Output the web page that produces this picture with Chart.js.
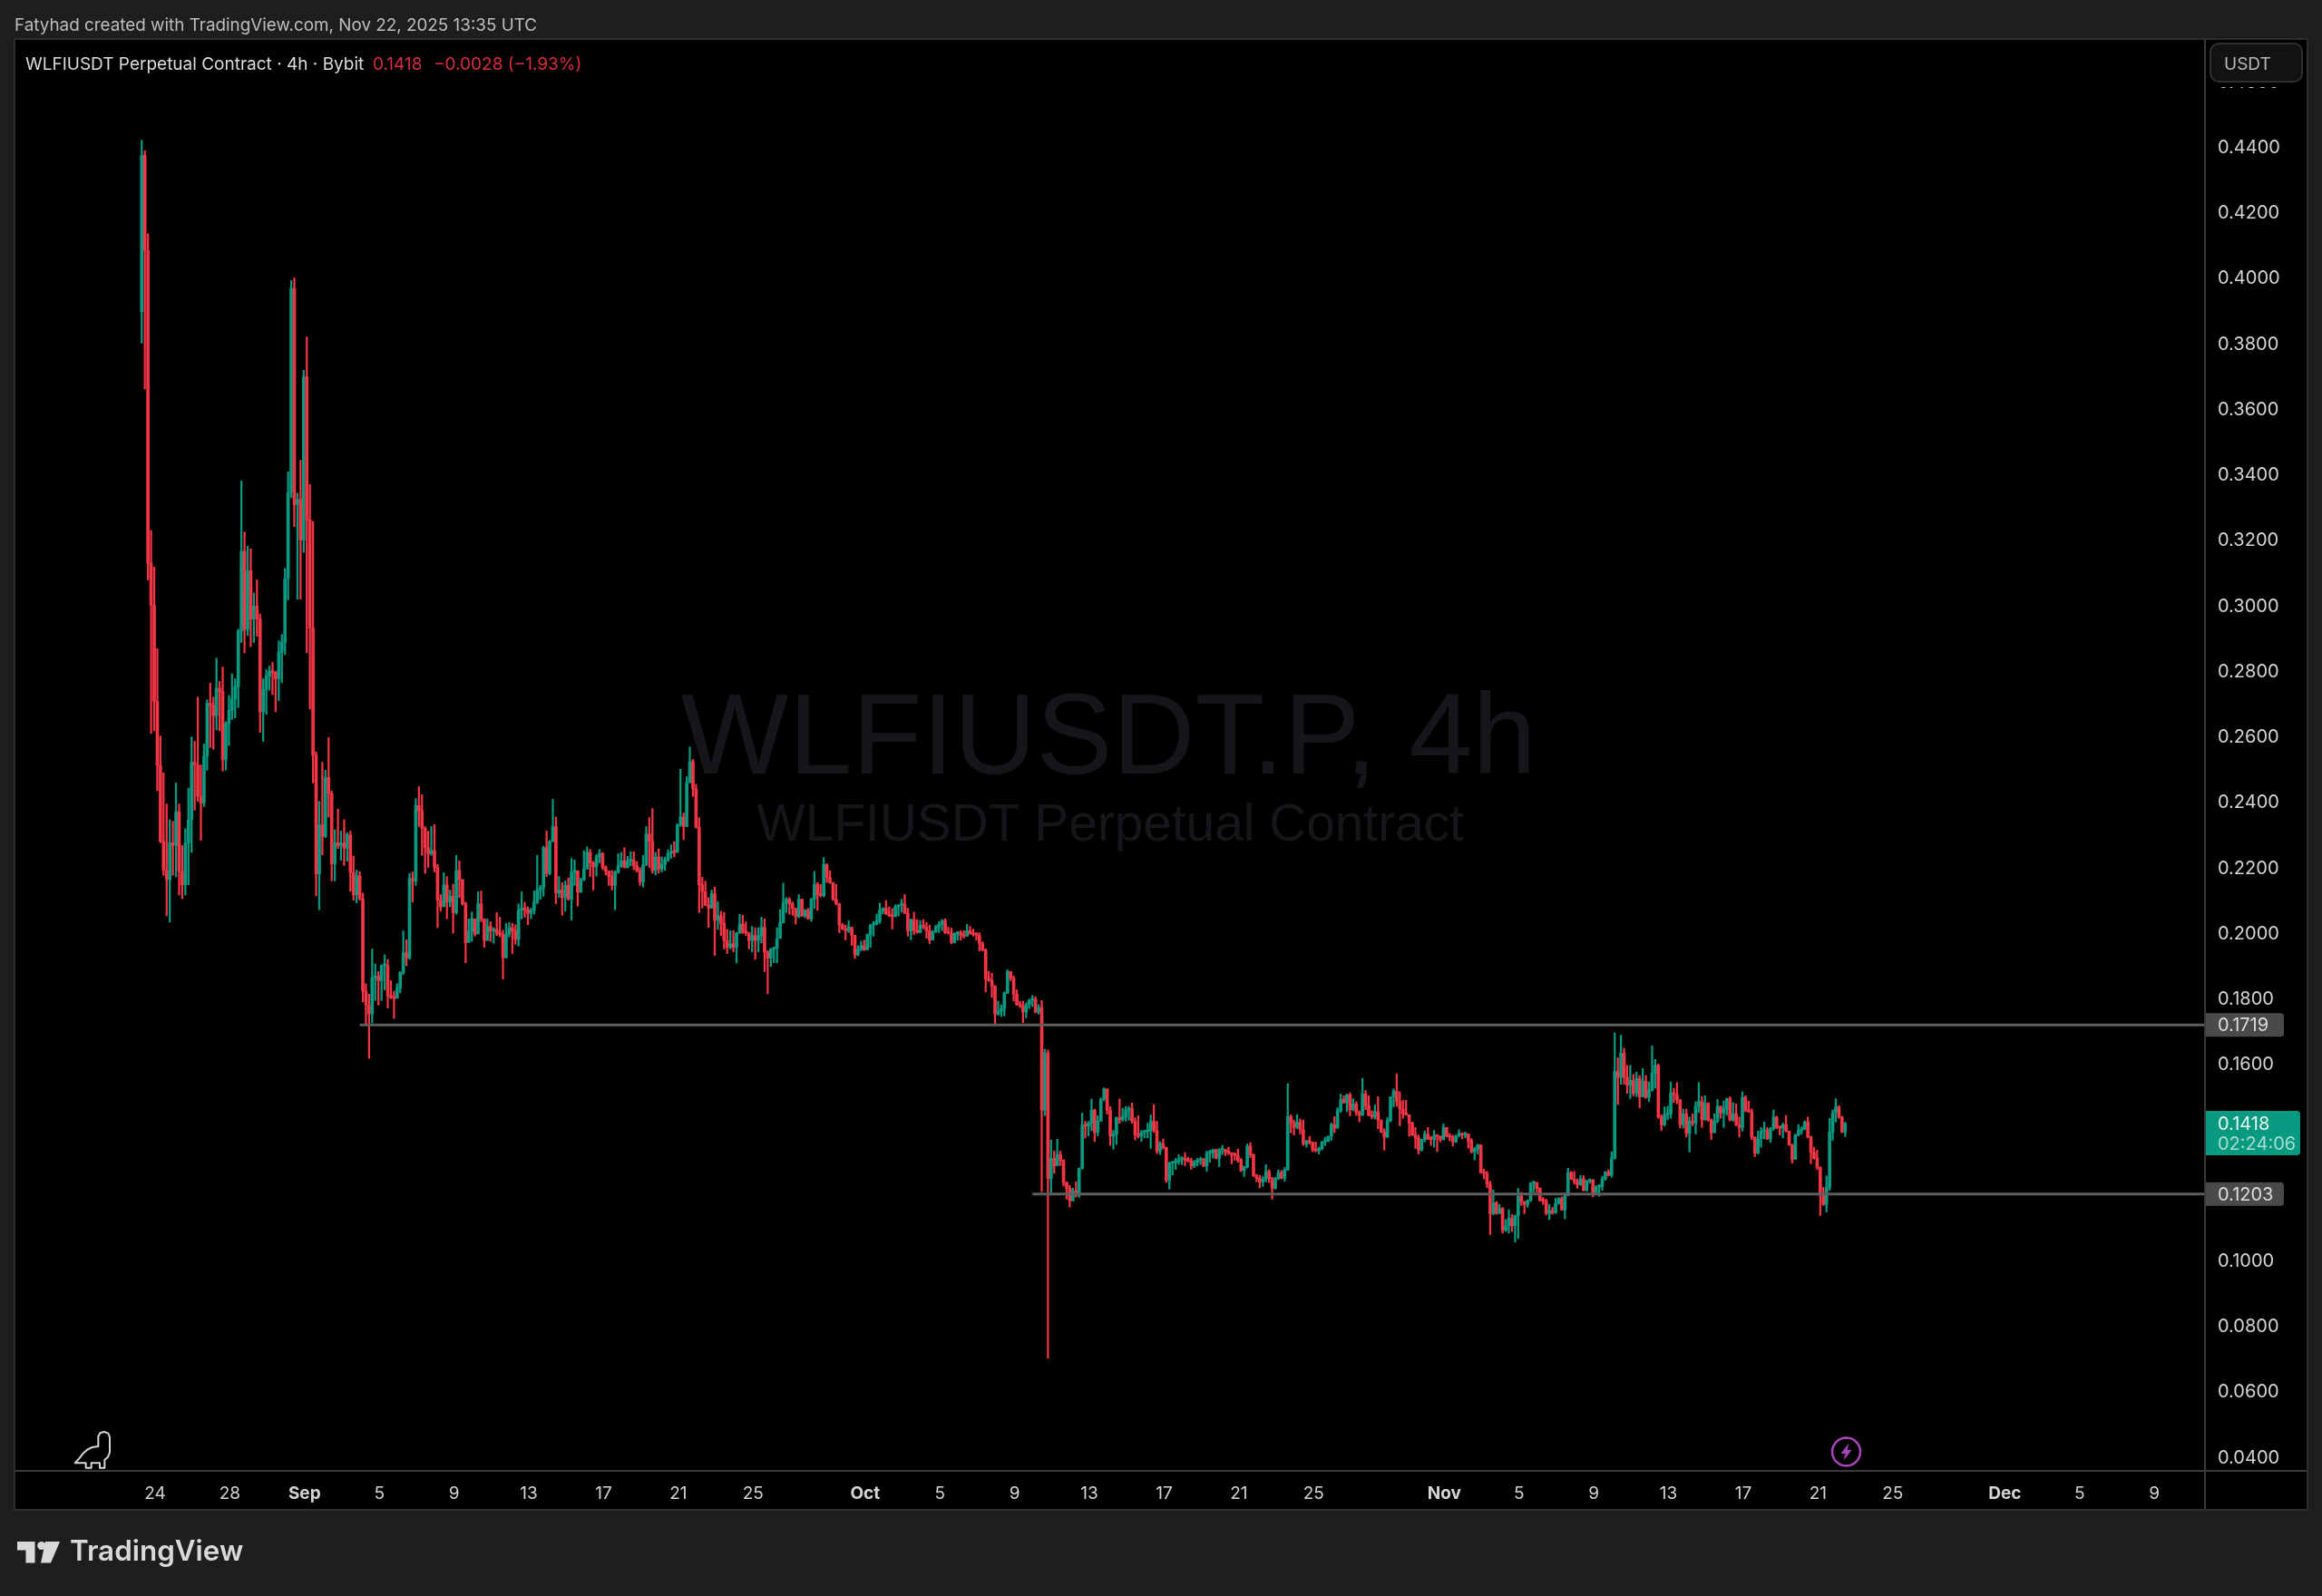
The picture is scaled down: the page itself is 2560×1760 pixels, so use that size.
<!DOCTYPE html>
<html><head><meta charset="utf-8"><title>WLFIUSDT.P 4h</title>
<style>html,body{margin:0;padding:0;background:#1e1e1e}canvas{display:block}</style>
<script src="https://cdn.jsdelivr.net/npm/chart.js@4/dist/chart.umd.min.js"></script>
</head><body><canvas id="c" width="2560" height="1760"></canvas>
<script>
const firstOpen = .3897;
const closes = [
.4374,.4083,.3129,.3001,.2707,.2512,.2280,.2192,.2163,.2275,
.2267,.2370,.2187,.2147,.2275,.2346,.2521,.2513,.2418,.2397,
.2540,.2701,.2696,.2664,.2747,.2736,.2529,.2640,.2680,.2715,
.2752,.2922,.3165,.2927,.3106,.2958,.2998,.2958,.2675,.2744,
.2784,.2799,.2795,.2776,.2858,.2887,.3082,.3345,.3968,.3308,
.3324,.3200,.3698,.3261,.2931,.2542,.2180,.2330,.2295,.2474,
.2426,.2211,.2275,.2267,.2275,.2259,.2299,.2184,.2116,.2174,
.2105,.1822,.1780,.1753,.1863,.1868,.1854,.1900,.1900,.1808,
.1803,.1800,.1831,.1879,.1940,.1923,.2166,.2159,.2389,.2373,
.2320,.2260,.2242,.2251,.2200,.2100,.2080,.2147,.2094,.2112,
.2062,.2191,.2163,.2089,.1971,.2005,.2043,.1997,.2089,.2043,
.1977,.2020,.2006,.2011,.1999,.1995,.1925,.1997,.2016,.2006,
.1980,.2069,.2076,.2071,.2060,.2069,.2094,.2131,.2138,.2260,
.2182,.2279,.2325,.2122,.2131,.2108,.2145,.2103,.2186,.2190,
.2124,.2163,.2195,.2246,.2214,.2202,.2232,.2242,.2200,.2189,
.2172,.2145,.2186,.2205,.2220,.2200,.2220,.2222,.2205,.2191,
.2156,.2208,.2302,.2280,.2191,.2232,.2195,.2209,.2223,.2242,
.2248,.2246,.2329,.2354,.2325,.2459,.2523,.2440,.2322,.2147,
.2126,.2085,.2076,.2120,.2039,.2052,.2029,.1977,.1956,.1967,
.1956,.1999,.2027,.2002,.2000,.1977,.1992,.1977,.1992,.2017,
.1942,.1923,.1951,.1953,.1983,.2032,.2092,.2103,.2089,.2075,
.2050,.2103,.2052,.2069,.2043,.2103,.2148,.2117,.2114,.2210,
.2170,.2154,.2103,.2088,.2024,.2012,.2007,.2018,.1993,.1933,
.1950,.1961,.1948,.1995,.2024,.2028,.2037,.2069,.2075,.2058,
.2052,.2050,.2080,.2085,.2088,.2061,.2007,.2041,.2007,.2002,
.2024,.2018,.2007,.1978,.2004,.2018,.2026,.2037,.2001,.1999,
.1971,.1998,.2001,.1993,.1990,.2007,.1998,.1995,.1993,.1967,
.1948,.1860,.1854,.1837,.1752,.1760,.1769,.1817,.1882,.1862,
.1812,.1781,.1778,.1758,.1781,.1794,.1798,.1758,.1772,.1459,
.1634,.1250,.1312,.1289,.1323,.1306,.1238,.1221,.1182,.1213,
.1199,.1281,.1413,.1410,.1419,.1459,.1391,.1425,.1493,.1524,
.1459,.1380,.1385,.1436,.1430,.1439,.1459,.1464,.1425,.1383,
.1380,.1391,.1394,.1396,.1425,.1396,.1334,.1357,.1345,.1244,
.1297,.1298,.1303,.1308,.1312,.1306,.1304,.1289,.1300,.1306,
.1310,.1289,.1327,.1329,.1338,.1312,.1337,.1338,.1331,.1328,
.1323,.1321,.1306,.1275,.1286,.1349,.1323,.1259,.1251,.1240,
.1248,.1272,.1251,.1220,.1249,.1268,.1251,.1277,.1439,.1420,
.1406,.1423,.1399,.1356,.1365,.1360,.1337,.1335,.1342,.1362,
.1365,.1379,.1415,.1404,.1457,.1491,.1482,.1506,.1460,.1478,
.1452,.1443,.1508,.1473,.1443,.1439,.1454,.1429,.1392,.1376,
.1427,.1499,.1517,.1485,.1462,.1448,.1445,.1420,.1383,.1374,
.1337,.1369,.1386,.1371,.1369,.1383,.1379,.1369,.1406,.1379,
.1377,.1362,.1380,.1388,.1383,.1386,.1365,.1332,.1340,.1353,
.1268,.1266,.1233,.1143,.1176,.1143,.1159,.1092,.1106,.1129,
.1106,.1137,.1196,.1180,.1171,.1183,.1236,.1238,.1220,.1183,
.1181,.1143,.1152,.1146,.1174,.1189,.1155,.1198,.1268,.1249,
.1242,.1231,.1249,.1214,.1242,.1247,.1208,.1224,.1226,.1249,
.1270,.1260,.1312,.1577,.1559,.1633,.1559,.1535,.1550,.1510,
.1555,.1499,.1548,.1498,.1519,.1572,.1595,.1438,.1414,.1445,
.1448,.1512,.1506,.1491,.1415,.1448,.1388,.1425,.1420,.1471,
.1485,.1429,.1480,.1429,.1390,.1425,.1471,.1450,.1463,.1494,
.1429,.1448,.1414,.1406,.1498,.1457,.1455,.1377,.1328,.1371,
.1395,.1396,.1371,.1402,.1438,.1406,.1404,.1415,.1395,.1353,
.1309,.1383,.1397,.1402,.1423,.1377,.1330,.1312,.1284,.1205,
.1171,.1223,.1392,.1452,.1469,.1438,.1392,.1418];
const highs = [
.4421,.4389,.4135,.3229,.3117,.2868,.2601,.2489,.2394,.2346,
.2341,.2458,.2394,.2267,.2318,.2442,.2598,.2585,.2720,.2513,
.2577,.2712,.2763,.2720,.2839,.2768,.2812,.2645,.2725,.2791,
.2776,.2927,.3380,.3224,.3181,.3173,.3038,.3078,.2974,.2776,
.2804,.2815,.2826,.2799,.2892,.2911,.3113,.3408,.3992,.4000,
.3343,.3443,.3718,.3820,.3369,.3257,.2553,.2402,.2521,.2497,
.2597,.2434,.2315,.2378,.2311,.2346,.2306,.2311,.2235,.2192,
.2187,.2122,.1845,.1813,.1951,.1905,.1882,.1903,.1933,.1919,
.1854,.1822,.1845,.1882,.2006,.1979,.2182,.2186,.2410,.2447,
.2422,.2325,.2311,.2325,.2331,.2209,.2117,.2184,.2172,.2131,
.2149,.2237,.2220,.2163,.2094,.2043,.2064,.2043,.2126,.2128,
.2043,.2043,.2034,.2016,.2062,.2048,.2008,.2029,.2032,.2029,
.2025,.2089,.2126,.2094,.2080,.2076,.2128,.2237,.2145,.2265,
.2311,.2283,.2408,.2354,.2172,.2154,.2159,.2168,.2228,.2223,
.2190,.2168,.2251,.2263,.2255,.2219,.2239,.2255,.2246,.2205,
.2189,.2191,.2190,.2242,.2246,.2260,.2234,.2248,.2248,.2218,
.2200,.2237,.2325,.2352,.2380,.2246,.2257,.2232,.2232,.2254,
.2269,.2279,.2333,.2500,.2366,.2477,.2568,.2530,.2454,.2352,
.2170,.2158,.2108,.2131,.2140,.2096,.2066,.2063,.2011,.2007,
.2007,.2002,.2057,.2054,.2034,.2002,.2020,.2016,.2016,.2048,
.2043,.1946,.1953,.1956,.2016,.2071,.2152,.2108,.2108,.2095,
.2075,.2117,.2103,.2072,.2075,.2106,.2188,.2154,.2148,.2230,
.2210,.2190,.2154,.2148,.2091,.2029,.2024,.2037,.2015,.1993,
.1961,.1975,.1978,.1997,.2026,.2035,.2058,.2091,.2077,.2099,
.2080,.2075,.2086,.2086,.2103,.2117,.2075,.2043,.2063,.2041,
.2038,.2041,.2032,.2024,.2007,.2024,.2035,.2041,.2043,.2018,
.2015,.2001,.2004,.2007,.2007,.2026,.2020,.2012,.2001,.2001,
.1973,.1952,.1883,.1877,.1840,.1792,.1781,.1820,.1888,.1882,
.1869,.1826,.1792,.1792,.1787,.1798,.1809,.1805,.1781,.1794,
.1645,.1643,.1368,.1334,.1370,.1334,.1308,.1240,.1229,.1221,
.1240,.1283,.1450,.1425,.1425,.1493,.1462,.1442,.1496,.1527,
.1523,.1470,.1397,.1438,.1493,.1465,.1470,.1470,.1481,.1436,
.1442,.1397,.1397,.1419,.1444,.1476,.1425,.1363,.1371,.1346,
.1300,.1300,.1312,.1323,.1317,.1329,.1315,.1312,.1306,.1312,
.1315,.1312,.1334,.1337,.1340,.1340,.1342,.1351,.1340,.1346,
.1329,.1329,.1340,.1312,.1288,.1356,.1360,.1325,.1263,.1260,
.1257,.1293,.1277,.1254,.1254,.1277,.1275,.1284,.1540,.1445,
.1429,.1445,.1432,.1429,.1367,.1379,.1362,.1362,.1346,.1364,
.1376,.1380,.1420,.1439,.1466,.1508,.1503,.1508,.1512,.1494,
.1485,.1457,.1556,.1519,.1503,.1457,.1475,.1500,.1429,.1402,
.1436,.1500,.1524,.1570,.1515,.1489,.1489,.1441,.1423,.1406,
.1383,.1371,.1395,.1406,.1379,.1397,.1383,.1380,.1417,.1406,
.1388,.1383,.1383,.1399,.1390,.1392,.1386,.1372,.1346,.1355,
.1353,.1279,.1272,.1242,.1215,.1180,.1171,.1162,.1125,.1155,
.1140,.1139,.1220,.1208,.1180,.1185,.1238,.1242,.1238,.1222,
.1192,.1187,.1171,.1162,.1190,.1192,.1194,.1205,.1282,.1272,
.1272,.1249,.1260,.1259,.1245,.1249,.1245,.1229,.1231,.1257,
.1272,.1277,.1332,.1695,.1619,.1688,.1648,.1596,.1596,.1568,
.1575,.1565,.1586,.1565,.1545,.1655,.1614,.1600,.1445,.1469,
.1471,.1545,.1526,.1543,.1491,.1462,.1462,.1438,.1448,.1485,
.1543,.1501,.1503,.1482,.1432,.1448,.1491,.1471,.1487,.1496,
.1500,.1482,.1478,.1438,.1515,.1503,.1487,.1463,.1377,.1395,
.1406,.1423,.1406,.1406,.1460,.1441,.1411,.1420,.1443,.1395,
.1355,.1386,.1415,.1408,.1426,.1438,.1380,.1346,.1337,.1286,
.1223,.1258,.1434,.1460,.1494,.1473,.1440,.1422];
const lows = [
.3801,.3661,.3078,.2609,.2617,.2434,.2275,.2176,.2052,.2033,
.2176,.2171,.2116,.2105,.2116,.2147,.2246,.2375,.2402,.2283,
.2386,.2497,.2566,.2561,.2620,.2617,.2494,.2497,.2572,.2652,
.2657,.2688,.2887,.2855,.2908,.2874,.2887,.2906,.2612,.2585,
.2668,.2741,.2728,.2675,.2709,.2764,.2850,.3017,.3329,.3241,
.3019,.3019,.3162,.2855,.2683,.2458,.2113,.2071,.2238,.2291,
.2354,.2159,.2159,.2258,.2222,.2206,.2219,.2127,.2100,.2092,
.2100,.1790,.1720,.1617,.1725,.1794,.1780,.1794,.1826,.1771,
.1799,.1739,.1803,.1817,.1873,.1900,.1919,.2094,.2145,.2325,
.2237,.2182,.2200,.2237,.2186,.2016,.2066,.2080,.2043,.2080,
.1999,.2057,.2108,.2085,.1909,.1971,.1974,.1990,.1997,.2034,
.1956,.1977,.1974,.1968,.1992,.1988,.1859,.1923,.1988,.1937,
.1965,.1960,.2043,.2048,.2025,.2043,.2057,.2089,.2103,.2112,
.2172,.2177,.2279,.2089,.2108,.2054,.2066,.2100,.2039,.2145,
.2082,.2124,.2159,.2195,.2172,.2131,.2174,.2214,.2193,.2177,
.2145,.2131,.2071,.2182,.2200,.2198,.2198,.2205,.2193,.2186,
.2145,.2140,.2205,.2200,.2182,.2177,.2182,.2186,.2191,.2218,
.2228,.2232,.2246,.2325,.2285,.2325,.2459,.2417,.2320,.2062,
.2076,.2083,.2017,.2076,.1931,.2011,.1992,.1951,.1937,.1951,
.1942,.1908,.1999,.1998,.1992,.1951,.1942,.1919,.1942,.1969,
.1882,.1814,.1897,.1909,.1909,.1983,.2030,.2062,.2057,.2054,
.2027,.2046,.2050,.2046,.2041,.2035,.2075,.2069,.2110,.2110,
.2154,.2151,.2099,.2086,.2001,.2010,.1979,.2001,.1962,.1922,
.1930,.1945,.1946,.1950,.1956,.1990,.2024,.2029,.2058,.2056,
.2050,.2012,.2049,.2052,.2063,.2058,.1990,.1979,.1995,.1999,
.2000,.2012,.1984,.1967,.1978,.2001,.2001,.2007,.1998,.1997,
.1967,.1969,.1978,.1978,.1984,.1990,.1996,.1990,.1978,.1945,
.1945,.1820,.1852,.1803,.1722,.1749,.1745,.1747,.1815,.1854,
.1792,.1779,.1772,.1726,.1741,.1769,.1775,.1756,.1752,.1210,
.1442,.0702,.1207,.1266,.1298,.1290,.1227,.1187,.1163,.1182,
.1193,.1193,.1279,.1374,.1380,.1396,.1363,.1380,.1425,.1487,
.1447,.1351,.1340,.1354,.1419,.1425,.1425,.1428,.1419,.1368,
.1374,.1363,.1374,.1374,.1342,.1391,.1326,.1323,.1340,.1238,
.1218,.1261,.1278,.1293,.1293,.1289,.1300,.1278,.1283,.1289,
.1293,.1286,.1272,.1300,.1312,.1310,.1286,.1323,.1320,.1323,
.1295,.1306,.1300,.1271,.1256,.1282,.1314,.1256,.1240,.1222,
.1226,.1240,.1238,.1187,.1218,.1247,.1249,.1242,.1275,.1390,
.1383,.1402,.1386,.1351,.1346,.1355,.1332,.1331,.1325,.1337,
.1351,.1362,.1367,.1390,.1404,.1452,.1480,.1454,.1441,.1457,
.1443,.1423,.1443,.1460,.1441,.1432,.1432,.1402,.1390,.1337,
.1376,.1423,.1469,.1471,.1411,.1434,.1443,.1379,.1381,.1342,
.1325,.1334,.1362,.1369,.1351,.1346,.1332,.1362,.1368,.1377,
.1365,.1349,.1360,.1377,.1371,.1374,.1343,.1328,.1307,.1325,
.1266,.1249,.1222,.1079,.1139,.1141,.1143,.1083,.1088,.1083,
.1088,.1056,.1067,.1168,.1143,.1162,.1180,.1208,.1208,.1181,
.1171,.1139,.1125,.1141,.1143,.1171,.1153,.1127,.1198,.1247,
.1233,.1220,.1229,.1212,.1211,.1236,.1194,.1205,.1196,.1214,
.1245,.1258,.1254,.1309,.1476,.1538,.1538,.1510,.1494,.1502,
.1500,.1466,.1500,.1495,.1485,.1517,.1526,.1434,.1397,.1411,
.1429,.1434,.1482,.1478,.1404,.1404,.1377,.1331,.1411,.1386,
.1452,.1406,.1429,.1425,.1369,.1390,.1420,.1434,.1406,.1443,
.1426,.1425,.1411,.1377,.1395,.1454,.1452,.1369,.1317,.1325,
.1346,.1371,.1369,.1360,.1397,.1402,.1383,.1374,.1392,.1351,
.1297,.1309,.1380,.1386,.1399,.1374,.1295,.1309,.1277,.1137,
.1168,.1148,.1214,.1367,.1423,.1434,.1390,.1378];
if (closes.length!==highs.length||closes.length!==lows.length) throw new Error('lengths '+closes.length+' '+highs.length+' '+lows.length);

const yTickValues = [.04,.06,.08,.10,.12,.14,.16,.18,.20,.22,.24,.26,.28,.30,.32,.34,.36,.38,.40,.42,.44,.46];
const xTickDates = ['2025-08-24','2025-08-28','2025-09-01','2025-09-05','2025-09-09','2025-09-13','2025-09-17','2025-09-21','2025-09-25','2025-10-01','2025-10-05','2025-10-09','2025-10-13','2025-10-17','2025-10-21','2025-10-25','2025-11-01','2025-11-05','2025-11-09','2025-11-13','2025-11-17','2025-11-21','2025-11-25','2025-12-01','2025-12-05','2025-12-09'];
const xTickLabels = ['24','28','Sep','5','9','13','17','21','25','Oct','5','9','13','17','21','25','Nov','5','9','13','17','21','25','Dec','5','9'];
const monthLabels = ['Sep','Oct','Nov','Dec'];
const lastPrice = .1418;
const levelHigh = .1719, levelHighStart = '2025-09-04';
const levelLow = .1203, levelLowStart = '2025-10-10';

const GREEN='#089981', RED='#f23645', FONT='Inter, "Noto Sans", sans-serif';
const dayOf = s => (Date.parse(s+'T00:00:00Z')-Date.UTC(2025,7,24))/864e5;
const barDay = i => (i*4-16)/24;            // first bar: Aug 23 08:00, one bar per 4 h
const opens = closes.map((c,i)=> i?closes[i-1]:firstOpen);
const colors = closes.map((c,i)=> c>=opens[i]?GREEN:RED);
const xMin = (16-170)/20.6, xMax=(2431-170)/20.6;
const yMax = .44+(162-43)/3611.7, yMin=.44-(1622-162)/3611.7;

const frame = {
  id:'frame',
  beforeDraw(ch){
    const c=ch.ctx; c.save();
    c.fillStyle='#1e1e1e'; c.fillRect(0,0,2560,1760);
    c.fillStyle='#000'; c.fillRect(16,43,2528,1622);
    c.fillStyle='#bdbdbd'; c.font='18.85px '+FONT; c.textBaseline='middle'; c.textAlign='left';
    c.fillText('Fatyhad created with TradingView.com, Nov 22, 2025 13:35 UTC',16,28);
    c.restore();
  },
  beforeDatasetsDraw(ch){
    const c=ch.ctx; c.save();
    c.textAlign='center'; c.textBaseline='middle'; c.fillStyle='#15161a';
    c.font='126px "Liberation Sans", Arial, sans-serif';
    c.fillText('WLFIUSDT.P, 4h',1222,818);
    c.font='56.8px "Liberation Sans", Arial, sans-serif';
    c.fillText('WLFIUSDT Perpetual Contract',1224,911);
    c.restore();
  },
  afterDraw(ch){
    const c=ch.ctx, y=ch.scales.y; c.save();
    // panel separators
    c.strokeStyle='#3a3a3a'; c.lineWidth=2;
    c.beginPath(); c.moveTo(16,1622); c.lineTo(2544,1622); c.moveTo(2431,43); c.lineTo(2431,1665); c.stroke();
    c.strokeStyle='#2e2e2e'; c.lineWidth=2; c.strokeRect(16,43,2528,1622);
    // legend
    c.textBaseline='middle'; c.textAlign='left'; c.font='19px '+FONT;
    c.fillStyle='#dcdcdc'; c.fillText('WLFIUSDT Perpetual Contract · 4h · Bybit',28,71.5);
    c.fillStyle='#d92d3f'; c.fillText('0.1418',411,71.5); c.fillText('−0.0028 (−1.93%)',478,71.5);
    // USDT box, with the clearance it keeps around itself
    c.fillStyle='#000'; c.fillRect(2433,45,110,51);
    c.fillStyle='#121212'; c.strokeStyle='#2f2f2f'; c.lineWidth=2;
    c.beginPath(); c.roundRect(2437,48,101,42,9); c.fill(); c.stroke();
    c.fillStyle='#b8b8b8'; c.fillText('USDT',2452,71);
    // price tags
    c.font='20px '+FONT;
    for(const v of [levelHigh,levelLow]){
      const py=y.getPixelForValue(v);
      c.fillStyle='#4a4a4a'; c.beginPath(); c.roundRect(2432,py-13,86,26,[0,4,4,0]); c.fill();
      c.fillStyle='#dcdcdc'; c.fillText(v.toFixed(4),2445,py+1);
    }
    const py=y.getPixelForValue(lastPrice);
    c.fillStyle=GREEN; c.beginPath(); c.roundRect(2432,py-14,104,49,[0,4,4,0]); c.fill();
    c.fillStyle='#e6f5f2'; c.fillText(lastPrice.toFixed(4),2445,py+1);
    c.fillStyle='#a8dcd2'; c.fillText('02:24:06',2445,py+23);
    // dino
    const d=[[248,160],[262,145],[275,128],[290,115],[305,108],[325,105],[325,72],[332,60],[345,57],[358,62],[363,75],[363,125],[357,140],[346,150],[346,176],[330,176],[330,160],[302,160],[302,176],[284,176],[284,160]];
    c.strokeStyle='#d6d6d6'; c.lineWidth=2; c.lineJoin='round'; c.beginPath();
    d.forEach((p,i)=>{const X=p[0]/3,Y=1560+p[1]/3; i?c.lineTo(X,Y):c.moveTo(X,Y);}); c.closePath(); c.stroke();
    // bolt badge
    c.strokeStyle='#ab47bc'; c.lineWidth=2.5; c.beginPath(); c.arc(2035.5,1601,15.5,0,Math.PI*2); c.stroke();
    const b=[[3,-9.5],[-6,2],[-1,2],[-3,9.5],[6,-2],[1,-2]];
    c.fillStyle='#ab47bc'; c.beginPath(); b.forEach((p,i)=>{i?c.lineTo(2035.5+p[0],1601+p[1]):c.moveTo(2035.5+p[0],1601+p[1]);}); c.closePath(); c.fill();
    // TradingView logo
    c.fillStyle='#d9d9d9'; c.beginPath();
    c.moveTo(19,1700);c.lineTo(38.5,1700);c.lineTo(38.5,1723.5);c.lineTo(28.5,1723.5);c.lineTo(28.5,1709.5);c.lineTo(19,1709.5);c.closePath();c.fill();
    c.beginPath(); c.arc(45.8,1704.5,4.6,0,Math.PI*2); c.fill();
    c.beginPath(); c.moveTo(50,1700);c.lineTo(66,1700);c.lineTo(56,1723.5);c.lineTo(45,1723.5);c.closePath();c.fill();
    c.font='600 31.4px '+FONT; c.fillText('TradingView',77,1712);
    c.restore();
  }
};

new Chart(document.getElementById('c'),{
  type:'bar',
  plugins:[frame],
  data:{datasets:[
    {type:'line',order:0,data:[{x:dayOf(levelHighStart),y:levelHigh},{x:xMax,y:levelHigh}],borderColor:'#5e5e5e',borderWidth:3,pointRadius:0},
    {type:'line',order:0,data:[{x:dayOf(levelLowStart),y:levelLow},{x:xMax,y:levelLow}],borderColor:'#5e5e5e',borderWidth:3,pointRadius:0},
    {order:2,data:closes.map((c,i)=>({x:barDay(i),y:[lows[i],highs[i]]})),backgroundColor:colors,barThickness:1.6,grouped:false},
    {order:1,data:closes.map((c,i)=>({x:barDay(i),y:[opens[i],c]})),backgroundColor:colors,barThickness:3,grouped:false,minBarLength:2}
  ]},
  options:{
    responsive:false,animation:false,events:[],
    layout:{padding:{left:16,top:43,right:16,bottom:95}},
    plugins:{legend:{display:false},tooltip:{enabled:false},title:{display:false}},
    scales:{
      x:{type:'linear',min:xMin,max:xMax,offset:false,
        grid:{display:false,offset:false},border:{display:false},
        afterFit(s){s.height=43;},
        afterBuildTicks(s){s.ticks=xTickDates.map(d=>({value:dayOf(d)}));},
        ticks:{autoSkip:false,maxRotation:0,padding:6,labelOffset:1,color:'#d4d4d4',
          callback:(v,i)=>xTickLabels[i],
          font:ctx=>({family:FONT,size:19,weight:monthLabels.includes(xTickLabels[ctx.index])?'700':'400'})}},
      y:{type:'linear',position:'right',min:yMin,max:yMax,
        grid:{display:false},border:{display:false},
        afterFit(s){s.width=113;},
        afterBuildTicks(s){s.ticks=yTickValues.map(v=>({value:v}));},
        ticks:{padding:6,labelOffset:1,color:'#d4d4d4',callback:v=>v.toFixed(4),font:{family:FONT,size:20}}}
    }
  }
});
</script></body></html>
